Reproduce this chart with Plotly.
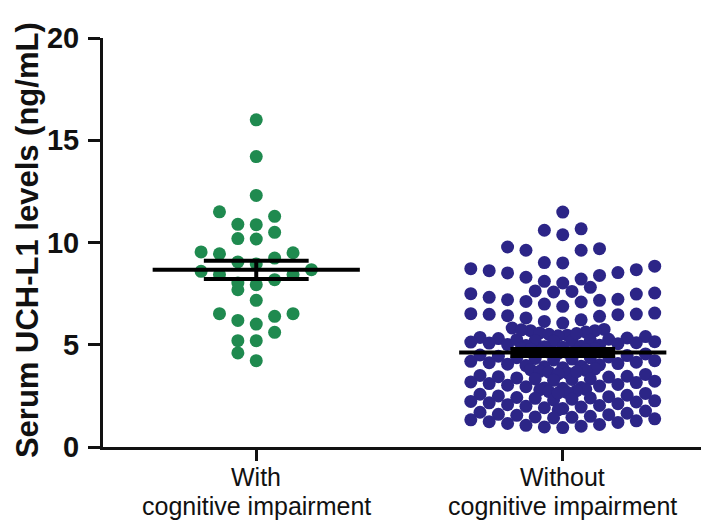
import numpy as np
import plotly.graph_objects as go

# ---------------- data ----------------
categories = ["With", "Without"]
category_sub = ["cognitive impairment", "cognitive impairment"]

with_ci = [16.0, 14.2, 12.3, 11.5, 11.28, 10.87, 10.89, 10.5, 10.19, 10.17,
           9.5, 9.45, 9.54, 9.05, 9.24, 8.95, 8.67, 8.59, 8.43, 8.43, 8.18,
           7.94, 8.02, 7.69, 7.17, 6.52, 6.52, 6.01, 6.19, 6.39, 5.61, 5.2,
           5.2, 4.6, 4.22]

without_ci = [
    11.49, 10.60, 10.38, 10.67, 9.70, 9.62, 9.62, 9.78, 9.0, 9.02,
    8.67, 8.62, 8.51, 8.30, 8.10, 8.02, 8.21, 8.39, 8.53, 8.72, 8.84,
    7.58, 7.53, 7.32, 7.20, 7.12, 6.99, 7.09, 7.17, 7.22, 7.50, 7.48,
    7.61, 6.88, 7.63, 7.81,
    6.52, 6.47, 6.42, 6.31, 6.14, 6.06, 6.22, 6.39, 6.55, 6.50, 6.49,
    5.82, 5.75, 5.69, 5.69, 5.62, 5.58, 5.51, 5.47, 5.44, 5.40, 5.36,
    5.33, 5.30, 5.27, 5.22, 5.20, 5.20, 5.17, 5.13, 5.10, 5.08, 5.05,
    5.01, 4.98, 4.96, 4.93, 4.90, 4.88, 5.25, 5.55, 5.73, 5.15,
    4.83, 4.80, 4.74, 4.70, 4.66, 4.62, 4.58, 4.55, 4.50, 4.47, 4.44,
    4.40, 4.37, 4.33, 4.30, 4.26, 4.22, 4.19, 4.15, 4.12, 4.08, 4.05,
    4.02, 3.98, 3.95, 3.92, 3.88, 4.36, 4.64, 4.78,
    3.82, 3.78, 3.75, 3.70, 3.66, 3.62, 3.58, 3.55, 3.50, 3.46, 3.42,
    3.38, 3.33, 3.33, 3.30, 3.26, 3.22, 3.18, 3.15, 3.10, 3.06, 3.02,
    2.98, 2.95, 2.91, 2.89, 2.87, 3.44, 3.68,
    2.82, 2.80, 2.75, 2.71, 2.66, 2.62, 2.58, 2.53, 2.50, 2.46, 2.42,
    2.38, 2.34, 2.30, 2.26, 2.23, 2.20, 2.16, 2.12, 2.07, 2.03, 1.99,
    1.95, 1.92, 1.88, 2.40, 2.64,
    1.82, 1.76, 1.70, 1.65, 1.60, 1.55, 1.50, 1.47, 1.42, 1.38, 1.33,
    1.28, 1.24, 1.20, 1.15, 1.10, 1.06, 1.02, 0.98, 0.95, 1.45, 1.58,
]

groups = [with_ci, without_ci]
colors = ["#1f8a4f", "#2c2587"]

y_ticks = [0, 5, 10, 15, 20]
y_title = "Serum UCH-L1 levels (ng/mL)"

# ---------------- layout helpers ----------------
FONT = "Liberation Sans, Arial, Helvetica, sans-serif"
COL_STEP = 0.06      # horizontal spacing of swarm columns (category units)
ROW_H = 1.0          # height of a swarm row (data units)
ROW_BASE = 0.85


def slot_order():
    lv0 = sorted(range(-5, 6), key=lambda v: (abs(v), v))
    lv1 = sorted([h + 0.5 for h in range(-5, 5)], key=lambda v: (abs(v), v))
    lv2 = sorted([q / 4 for q in range(-19, 20, 2)], key=lambda v: (abs(v), v))
    return lv0 + lv1 + lv2


SLOTS = slot_order()


def swarm_offsets(values):
    vals = np.asarray(values, dtype=float)
    rows = np.floor((vals - ROW_BASE) / ROW_H).astype(int)
    offs = np.zeros(len(vals))
    for r in np.unique(rows):
        idx = np.where(rows == r)[0]
        idx = idx[np.argsort(vals[idx], kind="stable")]
        for k, i in enumerate(idx):
            offs[i] = SLOTS[k % len(SLOTS)] * COL_STEP
    return offs


fig = go.Figure()

for gi, (vals, col) in enumerate(zip(groups, colors)):
    xs = gi + swarm_offsets(vals)
    fig.add_trace(go.Scatter(
        x=xs, y=vals, mode="markers",
        marker=dict(size=13, color=col, line=dict(width=0)),
        showlegend=False, hoverinfo="y"))

# mean +/- SEM
for gi, vals in enumerate(groups):
    v = np.asarray(vals)
    m = v.mean()
    s = v.std(ddof=1) / np.sqrt(len(v))
    lw = 4
    fig.add_trace(go.Scatter(x=[gi - 0.338, gi + 0.338], y=[m, m], mode="lines",
                             line=dict(color="black", width=lw), showlegend=False, hoverinfo="skip"))
    for yy in (m - s, m + s):
        fig.add_trace(go.Scatter(x=[gi - 0.171, gi + 0.171], y=[yy, yy], mode="lines",
                                 line=dict(color="black", width=lw), showlegend=False, hoverinfo="skip"))
    fig.add_trace(go.Scatter(x=[gi, gi], y=[m - s, m + s], mode="lines",
                             line=dict(color="black", width=lw), showlegend=False, hoverinfo="skip"))

annotations = [dict(text="<b>" + y_title + "</b>", textangle=-90, xref="paper", yref="paper",
                    x=-0.123, y=0.505, xanchor="center", yanchor="middle", showarrow=False,
                    font=dict(size=31, family=FONT, color="#111"))]
for gi, (top, sub) in enumerate(zip(categories, category_sub)):
    annotations.append(dict(text=top, xref="x", yref="paper", x=gi, y=-0.073,
                            xanchor="center", yanchor="middle", showarrow=False,
                            font=dict(size=25, family=FONT, color="#111")))
    annotations.append(dict(text=sub, xref="x", yref="paper", x=gi, y=-0.144,
                            xanchor="center", yanchor="middle", showarrow=False,
                            font=dict(size=25, family=FONT, color="#111")))

fig.update_layout(
    width=709, height=523,
    margin=dict(l=95, r=1, t=30, b=84),
    paper_bgcolor="white", plot_bgcolor="white",
    font=dict(family=FONT, color="black"),
    xaxis=dict(range=[-0.5, 1.5], tickvals=[0, 1], showticklabels=False,
               showline=True, linecolor="#111", linewidth=3, ticks="outside",
               ticklen=11, tickwidth=3, tickcolor="#111", showgrid=False, zeroline=False),
    yaxis=dict(range=[0, 20], tickvals=y_ticks, showline=True, linecolor="#111",
               linewidth=3, ticks="outside", ticklen=12, tickwidth=3, tickcolor="#111",
               showgrid=False, zeroline=False, ticklabelstandoff=3,
               tickfont=dict(size=29, family=FONT, color="#111", weight="bold")),
    annotations=annotations,
)

fig.write_html("out.html")
